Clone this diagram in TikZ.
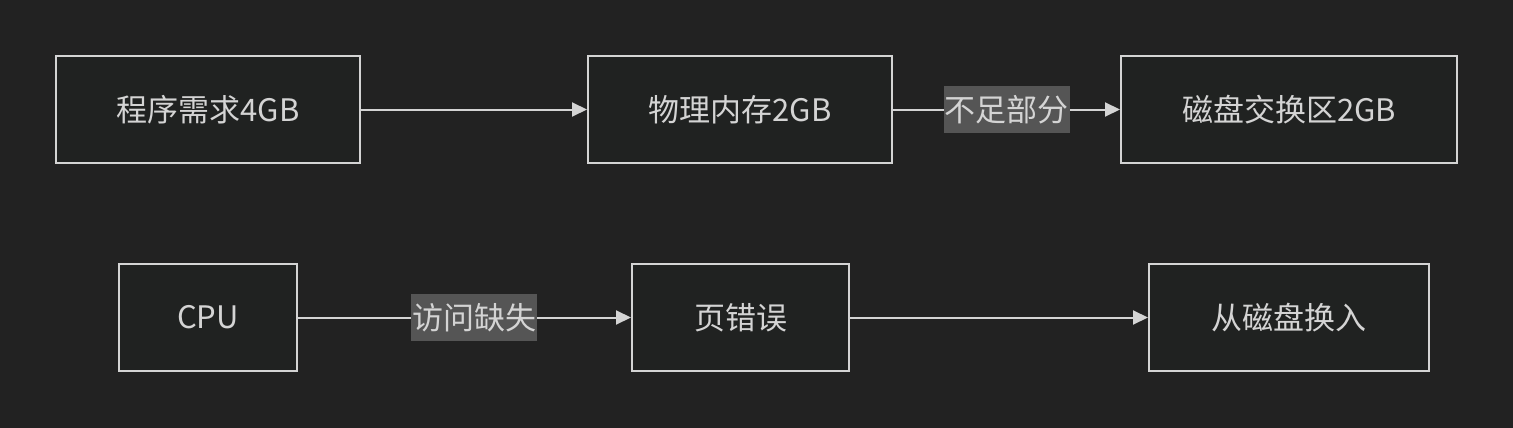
\documentclass[tikz,border=0pt]{standalone}
\usepackage{fontspec}
\setmainfont{Noto Sans CJK SC}
\usetikzlibrary{arrows.meta}
\definecolor{bg}{HTML}{222222}
\definecolor{boxfill}{HTML}{202221}
\definecolor{fg}{HTML}{D4D4D4}
\definecolor{lblfill}{HTML}{555555}
\tikzset{
  box/.style={draw=fg, fill=boxfill, line width=2pt, text=fg, font=\fontsize{31}{36}\selectfont, inner sep=0pt},
  conn/.style={draw=fg, line width=2pt, -{Triangle[length=15pt,width=14pt]}},
  lbl/.style={fill=lblfill, text=fg, font=\fontsize{31}{36}\selectfont, inner xsep=1pt, inner ysep=0pt, minimum height=47pt}
}
\begin{document}
\begin{tikzpicture}[x=1pt,y=-1pt]
\path[fill=bg] (0,0) rectangle (1513,428);
\useasboundingbox (0,0) rectangle (1513,428);
\node[box, minimum width=304pt, minimum height=107pt] (a) at (208,109.5) {程序需求4GB};
\node[box, minimum width=304pt, minimum height=107pt] (b) at (740,109.5) {物理内存2GB};
\node[box, minimum width=336pt, minimum height=107pt] (c) at (1289,109.5) {磁盘交换区2GB};
\node[box, minimum width=178pt, minimum height=107pt] (d) at (208,317.5) {CPU};
\node[box, minimum width=217pt, minimum height=107pt] (e) at (740.5,317.5) {页错误};
\node[box, minimum width=280pt, minimum height=107pt] (f) at (1289,317.5) {从磁盘换入};
\draw[conn] (a) -- (b);
\draw[conn] (b) -- node[lbl, pos=0.5] {不足部分} (c);
\draw[conn] (d) -- node[lbl, pos=0.53] {访问缺失} (e);
\draw[conn] (e) -- (f);
\end{tikzpicture}
\end{document}
